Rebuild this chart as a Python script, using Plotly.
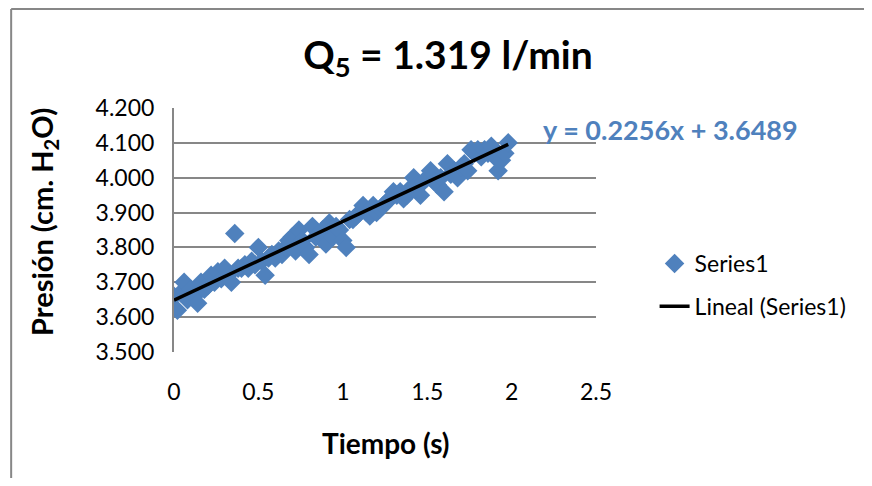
import plotly.graph_objects as go

# ---- data ----
tiempo = [0.00, 0.02, 0.04, 0.06, 0.08, 0.10, 0.12, 0.14, 0.16, 0.18,
          0.20, 0.22, 0.24, 0.26, 0.28, 0.30, 0.32, 0.34, 0.36, 0.38,
          0.40, 0.42, 0.44, 0.46, 0.48, 0.50, 0.52, 0.54, 0.56, 0.58,
          0.60, 0.62, 0.64, 0.66, 0.68, 0.70, 0.72, 0.74, 0.76, 0.78,
          0.80, 0.82, 0.84, 0.86, 0.88, 0.90, 0.92, 0.94, 0.96, 0.98,
          1.00, 1.02, 1.04, 1.06, 1.08, 1.10, 1.12, 1.14, 1.16, 1.18,
          1.20, 1.22, 1.24, 1.26, 1.28, 1.30, 1.32, 1.34, 1.36, 1.38,
          1.40, 1.42, 1.44, 1.46, 1.48, 1.50, 1.52, 1.54, 1.56, 1.58,
          1.60, 1.62, 1.64, 1.66, 1.68, 1.70, 1.72, 1.74, 1.76, 1.78,
          1.80, 1.82, 1.84, 1.86, 1.88, 1.90, 1.92, 1.94, 1.96, 1.98]
presion = [3.66, 3.62, 3.67, 3.70, 3.65, 3.68, 3.66, 3.64, 3.70, 3.68,
           3.69, 3.72, 3.70, 3.73, 3.71, 3.74, 3.72, 3.70, 3.84, 3.74,
           3.74, 3.75, 3.74, 3.76, 3.75, 3.80, 3.76, 3.72, 3.77, 3.78,
           3.77, 3.79, 3.78, 3.80, 3.82, 3.83, 3.79, 3.85, 3.82, 3.80,
           3.78, 3.86, 3.83, 3.84, 3.85, 3.81, 3.87, 3.83, 3.86, 3.85,
           3.82, 3.80, 3.88, 3.88, 3.89, 3.90, 3.92, 3.90, 3.89, 3.92,
           3.90, 3.91, 3.92, 3.93, 3.94, 3.96, 3.95, 3.96, 3.94, 3.95,
           3.97, 4.00, 3.98, 3.95, 3.99, 4.00, 4.02, 3.99, 3.98, 4.00,
           3.96, 4.04, 4.01, 4.02, 4.00, 4.03, 4.04, 4.02, 4.08, 4.07,
           4.08, 4.06, 4.08, 4.07, 4.09, 4.06, 4.02, 4.05, 4.07, 4.10]
pendiente = 0.2256
intercepto = 3.6489
y_ticks = [3.5, 3.6, 3.7, 3.8, 3.9, 4.0, 4.1, 4.2]
x_ticks = [0, 0.5, 1, 1.5, 2, 2.5]
x_tick_labels = ["0", "0.5", "1", "1.5", "2", "2.5"]

FONT = "Lato, 'Open Sans', sans-serif"
BLUE = "#4F81BD"
GRID = "#878787"

x_line = [min(tiempo), max(tiempo)]
y_line = [intercepto + pendiente * v for v in x_line]

fig = go.Figure()
fig.add_trace(go.Scatter(
    x=tiempo, y=presion, mode="markers", name="Series1",
    marker=dict(symbol="diamond", size=15, color=BLUE, line=dict(width=0)),
    legendgroup="a"))
fig.add_trace(go.Scatter(
    x=x_line, y=y_line, mode="lines", name="Lineal (Series1)",
    line=dict(color="black", width=3.5), legendgroup="b"))

# the page has an 8px body margin: work in page pixels and shift by OFF
OFF = 8
W, H = 872 - 2 * OFF, 486 - 2 * OFF
L, R, T, B = 174 - OFF, 599 - OFF, 108 - OFF, 352 - OFF
def px_x(p):
    return (p - OFF - L) / (R - L)
def px_y(p):
    return (B - (p - OFF)) / (B - T)

fig.update_layout(
    width=W, height=H,
    margin=dict(l=L, r=W - R, t=T, b=H - B),
    paper_bgcolor="white", plot_bgcolor="white",
    font=dict(family=FONT, size=23, color="black"),
    title=dict(text="Q<sub>5</sub> = 1.319 l/min", x=(448 - OFF) / W, y=1 - (55 - OFF) / H,
               xanchor="center", yanchor="middle", xref="container", yref="container",
               font=dict(family=FONT, size=39, color="black", weight="bold")),
    showlegend=True,
    legend=dict(x=px_x(658), y=px_y(242), xanchor="left", yanchor="top",
                font=dict(family=FONT, size=23, color="black"),
                tracegroupgap=10, bgcolor="rgba(0,0,0,0)"),
    xaxis=dict(range=[0, 2.5], tickvals=x_ticks, ticktext=x_tick_labels,
               showgrid=False, zeroline=False, showline=False, ticks="",
               ticklabelstandoff=24, tickfont=dict(size=23)),
    yaxis=dict(range=[3.5, 4.2], tickvals=y_ticks, tickformat=".3f",
               showgrid=True, gridcolor=GRID, gridwidth=2, zeroline=False,
               showline=True, linecolor=GRID, linewidth=2,
               ticks="outside", ticklen=13, tickcolor="rgba(0,0,0,0)",
               tickfont=dict(size=23)),
)

# chart-area border (left and top edges only are inside the picture)
fig.add_shape(type="line", xref="paper", yref="paper",
              x0=px_x(10), x1=px_x(10), y0=px_y(520), y1=px_y(9),
              line=dict(color=GRID, width=2), layer="below")
fig.add_shape(type="line", xref="paper", yref="paper",
              x0=px_x(10), x1=px_x(900), y0=px_y(9), y1=px_y(9),
              line=dict(color=GRID, width=2), layer="below")

# axis titles
fig.add_annotation(text="Presión (cm. H<sub>2</sub>O)", xref="paper", yref="paper",
                   x=px_x(42), y=px_y(222), textangle=-90, showarrow=False,
                   xanchor="center", yanchor="middle",
                   font=dict(family=FONT, size=29, color="black", weight="bold"))
fig.add_annotation(text="Tiempo (s)", xref="paper", yref="paper",
                   x=px_x(388), y=px_y(443), showarrow=False,
                   xanchor="center", yanchor="middle",
                   font=dict(family=FONT, size=28, color="black", weight="bold"))
# trendline equation
fig.add_annotation(text="y = 0.2256x + 3.6489", xref="paper", yref="paper",
                   x=px_x(544), y=px_y(129), showarrow=False,
                   xanchor="left", yanchor="middle",
                   font=dict(family=FONT, size=27, color=BLUE, weight="bold"))

fig.write_html("out.html")
